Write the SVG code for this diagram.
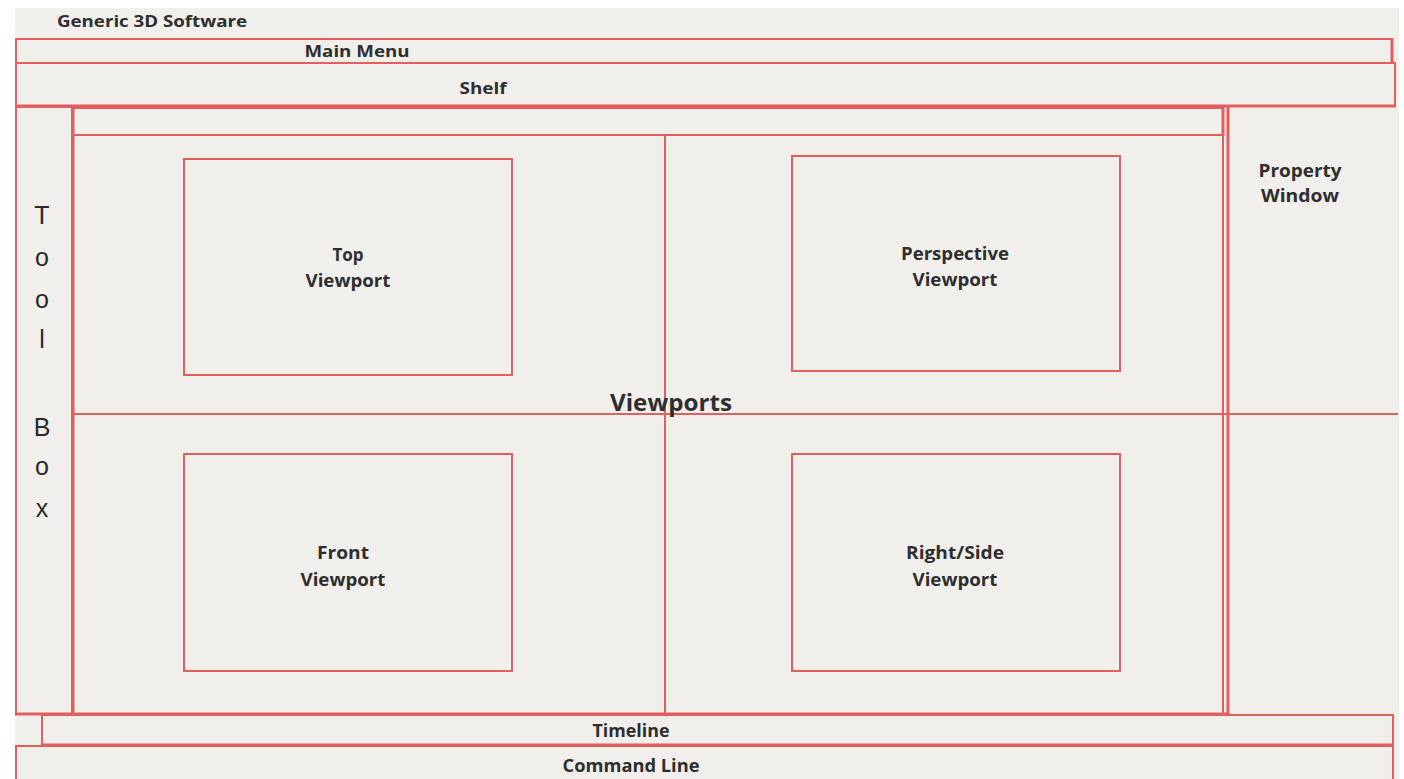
<svg xmlns="http://www.w3.org/2000/svg" width="1404" height="779" viewBox="0 0 1404 779">
<style>
.bx{fill:none;stroke:#e35f5f;stroke-width:2}
.ln{stroke:#e35f5f;stroke-width:2}
.lt{stroke:#e35f5f;stroke-width:3}
.t{font-family:"Open Sans","Liberation Sans",sans-serif;font-weight:bold;fill:#2e2e2e;text-anchor:middle;font-size:16px}
.v{font-size:17px}
.big{font-size:23px}
.tb{font-family:"Liberation Sans",Arial,sans-serif;fill:#2a2a2a;text-anchor:middle;font-size:25px}
</style>
<rect x="0" y="0" width="1404" height="779" fill="#ffffff"/>
<rect x="15" y="8" width="1384" height="771" fill="#f1efec"/>
<g id="title"><text class="t" x="152" y="27" textLength="190" lengthAdjust="spacingAndGlyphs">Generic 3D Software</text></g>
<g id="main-menu"><rect class="bx" x="16" y="39" width="1376" height="24"/><line class="lt" x1="1392" y1="38" x2="1392" y2="64" stroke-width="4"/><text class="t" x="357" y="57" textLength="105" lengthAdjust="spacingAndGlyphs">Main Menu</text></g>
<g id="shelf"><rect class="bx" x="16" y="63" width="1379" height="43"/><line class="lt" x1="15" y1="106" x2="1396" y2="106"/><text class="t" x="483" y="94" textLength="47" lengthAdjust="spacingAndGlyphs">Shelf</text></g>
<g id="tool-box"><rect class="bx" x="16" y="107" width="56" height="607"/><line class="lt" x1="73" y1="107" x2="73" y2="714" stroke-width="4"/>
<text class="tb" x="42" y="224">T</text><text class="tb" x="42" y="266">o</text><text class="tb" x="42" y="308">o</text><text class="tb" x="42" y="348">l</text><text class="tb" x="42" y="436">B</text><text class="tb" x="42" y="475">o</text><text class="tb" x="42" y="517">x</text></g>
<g id="top-strip"><rect class="bx" x="73" y="108" width="1150" height="27"/><line class="lt" x1="1223" y1="107" x2="1223" y2="136" stroke-width="4"/></g>
<g id="viewports"><rect class="bx" x="73" y="135" width="1150" height="579"/><line class="ln" x1="665" y1="135" x2="665" y2="714"/><line class="ln" x1="73" y1="414" x2="1398" y2="414"/><text class="t big" x="671" y="411" textLength="122" lengthAdjust="spacingAndGlyphs">Viewports</text></g>
<g id="property-window"><line class="lt" x1="1228" y1="107" x2="1228" y2="714"/><text class="t v" x="1300" y="177" textLength="83" lengthAdjust="spacingAndGlyphs">Property</text><text class="t v" x="1300" y="202" textLength="78" lengthAdjust="spacingAndGlyphs">Window</text></g>
<g id="top-viewport"><rect class="bx" x="184" y="159" width="328" height="216"/><text class="t v" x="348" y="261">Top</text><text class="t v" x="348" y="287" textLength="85" lengthAdjust="spacingAndGlyphs">Viewport</text></g>
<g id="perspective-viewport"><rect class="bx" x="792" y="156" width="328" height="215"/><text class="t v" x="955" y="260" textLength="108" lengthAdjust="spacingAndGlyphs">Perspective</text><text class="t v" x="955" y="286" textLength="85" lengthAdjust="spacingAndGlyphs">Viewport</text></g>
<g id="front-viewport"><rect class="bx" x="184" y="454" width="328" height="217"/><text class="t v" x="343" y="559" textLength="52" lengthAdjust="spacingAndGlyphs">Front</text><text class="t v" x="343" y="586" textLength="85" lengthAdjust="spacingAndGlyphs">Viewport</text></g>
<g id="right-side-viewport"><rect class="bx" x="792" y="454" width="328" height="217"/><text class="t v" x="955" y="559" textLength="98" lengthAdjust="spacingAndGlyphs">Right/Side</text><text class="t v" x="955" y="586" textLength="85" lengthAdjust="spacingAndGlyphs">Viewport</text></g>
<g id="timeline"><rect class="bx" x="42" y="715" width="1351" height="30"/><line class="lt" x1="15" y1="714" x2="1228" y2="714"/><line class="lt" x1="42" y1="745" x2="1393" y2="745"/><text class="t v" x="631" y="737" textLength="77" lengthAdjust="spacingAndGlyphs">Timeline</text></g>
<g id="command-line"><rect class="bx" x="16" y="746" width="1377" height="40"/><text class="t v" x="631" y="772" textLength="137" lengthAdjust="spacingAndGlyphs">Command Line</text></g>
</svg>
